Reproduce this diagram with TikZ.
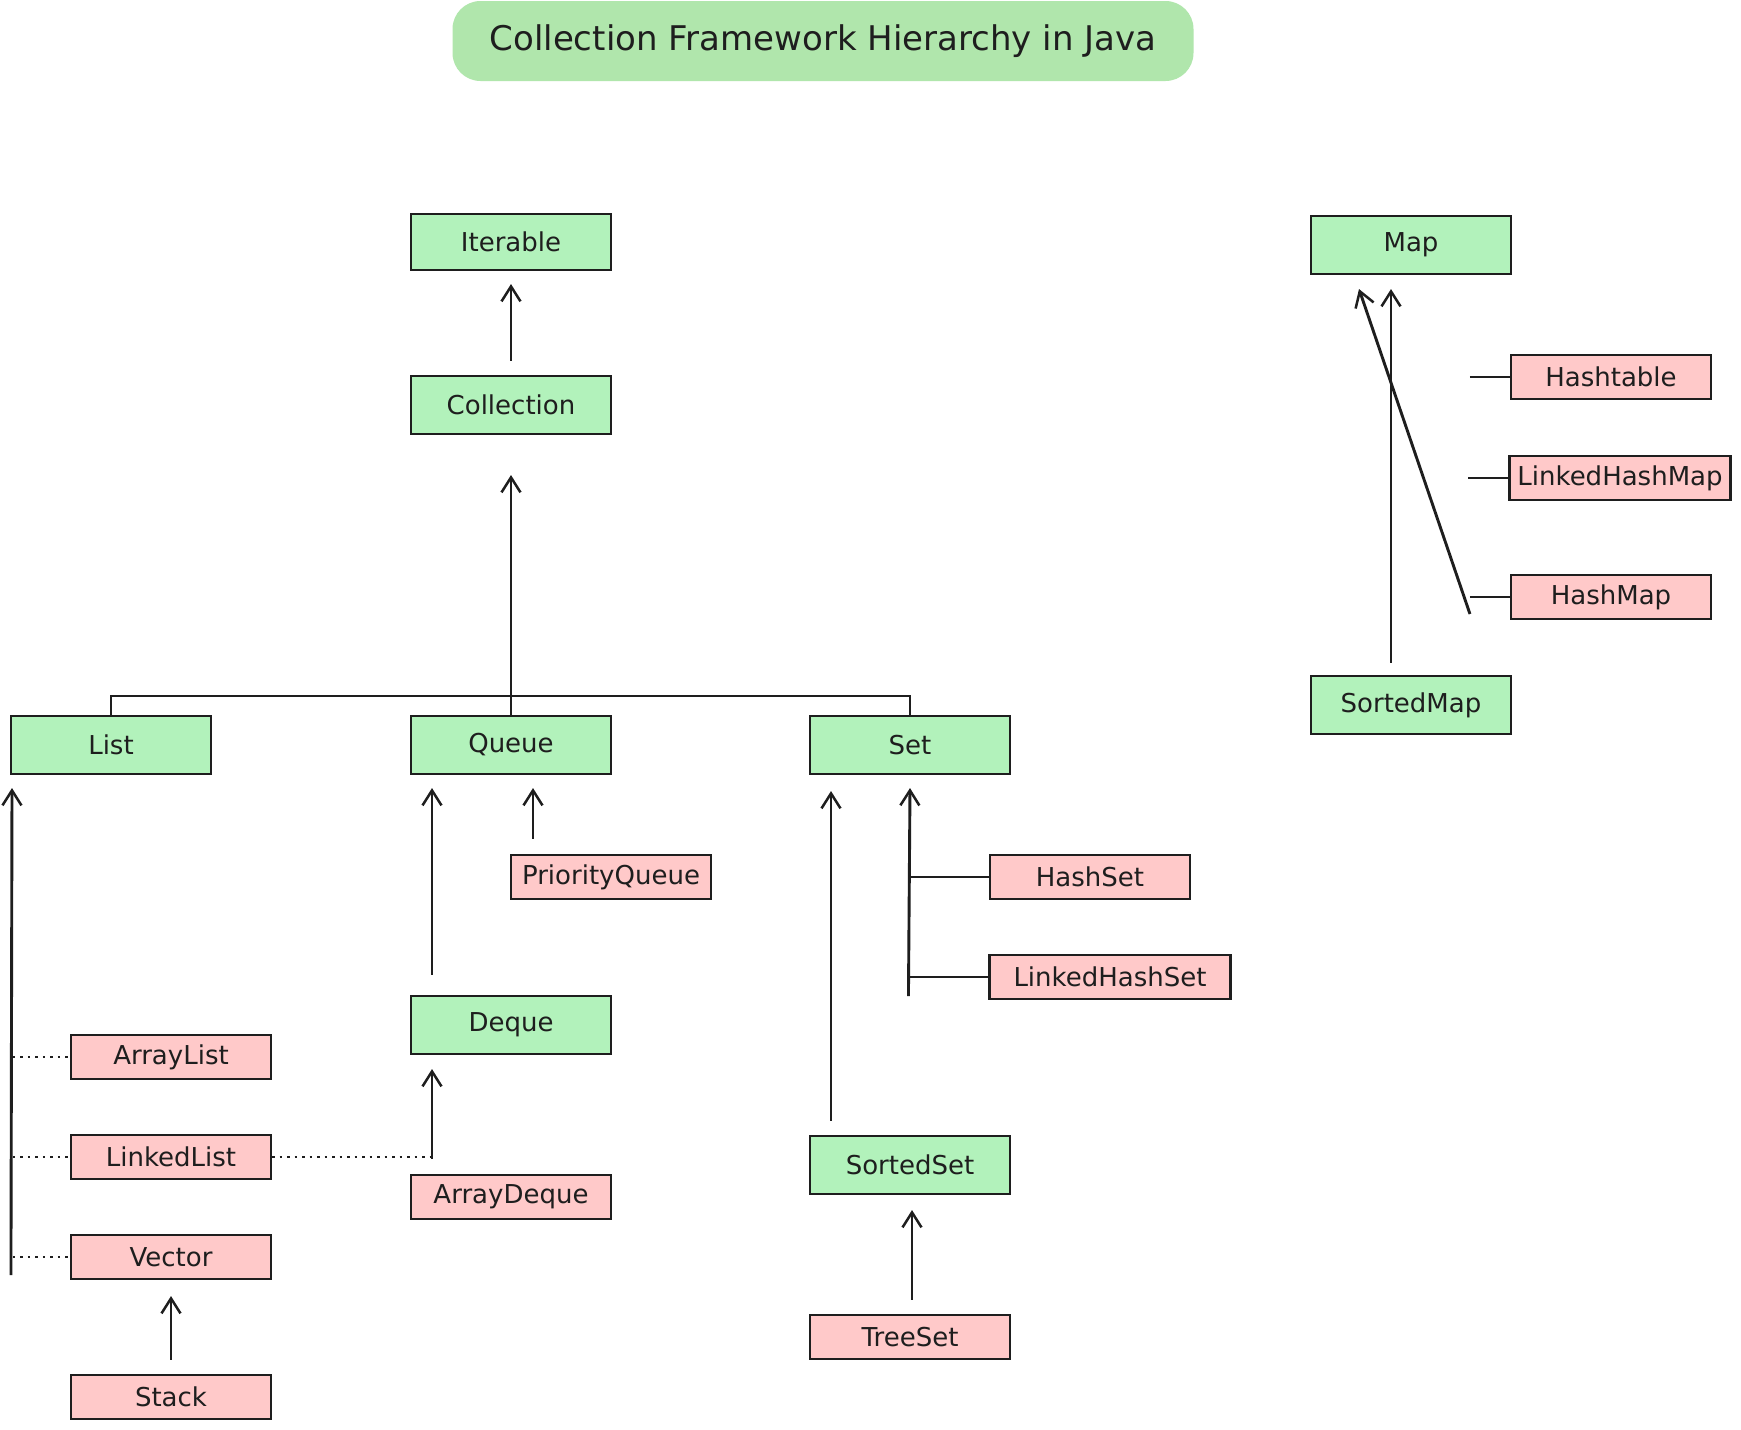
\documentclass[tikz,border=0pt]{standalone}
\usepackage{fontspec}
\setmainfont{DejaVu Sans}
\usetikzlibrary{arrows.meta}
\definecolor{ink}{HTML}{1E1E1E}
\definecolor{gfill}{HTML}{B2F2BB}
\definecolor{pfill}{HTML}{FFC9C9}
\definecolor{tfill}{HTML}{B0E6AC}
\tikzset{
  base/.style={draw=ink, line width=2.1pt, inner sep=0pt, text=ink, font=\fontsize{26}{30}\selectfont},
  gbox/.style={base, fill=gfill, minimum width=200pt, minimum height=58pt},
  pbox/.style={base, fill=pfill, minimum width=200pt, minimum height=44pt},
  arr/.style={draw=ink, line width=2.9pt, -{Straight Barb[length=15pt,width=19pt,line width=2.5pt]}},
  tline/.style={draw=ink, line width=2.1pt},
  dline/.style={draw=ink, line width=2.2pt, dash pattern=on 2.5pt off 5pt},
}
\begin{document}
\begin{tikzpicture}[x=1pt,y=-1pt]
\useasboundingbox (0,0) rectangle (1741,1430);
\fill[white] (0,0) rectangle (1741,1430);

% title
\node[fill=tfill, rounded corners=28pt, minimum width=741pt, minimum height=80pt, inner sep=0pt, text=ink,
      font=\fontsize{34}{40}\selectfont] (title) at (823,41) {Collection Framework Hierarchy in Java};

% green interfaces
\node[gbox, minimum height=56pt] (Iterable) at (511,242) {Iterable};
\node[gbox] (Collection) at (511,405) {Collection};
\node[gbox] (List) at (111,745) {List};
\node[gbox] (Queue) at (511,745) {Queue};
\node[gbox] (Set) at (910,745) {Set};
\node[gbox] (Deque) at (511,1025) {Deque};
\node[gbox] (SortedSet) at (910,1165) {SortedSet};
\node[gbox] (Map) at (1411,245) {Map};
\node[gbox] (SortedMap) at (1411,705) {SortedMap};

% pink classes
\node[pbox] (ArrayList) at (171,1057) {ArrayList};
\node[pbox] (LinkedList) at (171,1157) {LinkedList};
\node[pbox] (Vector) at (171,1257) {Vector};
\node[pbox] (Stack) at (171,1397) {Stack};
\node[pbox] (PriorityQueue) at (611,877) {PriorityQueue};
\node[pbox] (ArrayDeque) at (511,1197) {ArrayDeque};
\node[pbox] (HashSet) at (1090,877) {HashSet};
\node[pbox, minimum width=241pt] (LinkedHashSet) at (1110,977) {LinkedHashSet};
\node[pbox] (TreeSet) at (910,1337) {TreeSet};
\node[pbox] (Hashtable) at (1611,377) {Hashtable};
\node[pbox, minimum width=221pt] (LinkedHashMap) at (1620,478) {LinkedHashMap};
\node[pbox] (HashMap) at (1611,597) {HashMap};

% Collection -> Iterable
\draw[arr] ([yshift=14pt]Collection.north) -- ([yshift=-13pt]Iterable.south);

% tree under Collection
\coordinate (J) at ([yshift=19pt]Queue.north);
\draw[tline] (List.north) |- (J) -| (Set.north);
\draw[tline] (Queue.north) -- (J);
\draw[arr] (J) -- ([yshift=-40pt]Collection.south);

% List column
\coordinate (Lbot) at ([xshift=-59pt,yshift=-18pt]Vector.west);
\draw[arr] (Lbot) -- ([xshift=-99pt,yshift=-13pt]List.south);
\draw[dline] ([xshift=-57pt]ArrayList.west) -- (ArrayList.west);
\draw[dline] ([xshift=-57pt]LinkedList.west) -- (LinkedList.west);
\draw[dline] ([xshift=-57pt]Vector.west) -- (Vector.west);
\coordinate (LLend) at ([xshift=158pt]LinkedList.east);
\draw[dline] (LinkedList.east) -- (LLend);
\draw[arr] ([yshift=14pt]Stack.north) -- ([yshift=-16pt]Vector.south);

% Queue column
\draw[arr] ([xshift=-79pt,yshift=20pt]Deque.north) -- ([xshift=-79pt,yshift=-13pt]Queue.south);
\draw[arr] ([xshift=-79pt,yshift=15pt]ArrayDeque.north) -- ([xshift=-79pt,yshift=-14pt]Deque.south);
\draw[arr] ([xshift=-78pt,yshift=15pt]PriorityQueue.north) -- ([xshift=22pt,yshift=-13pt]Queue.south);

% Set column
\draw[arr] ([xshift=-79pt,yshift=14pt]SortedSet.north) -- ([xshift=-79pt,yshift=-16pt]Set.south);
\coordinate (SB) at ([xshift=-80pt,yshift=-19pt]LinkedHashSet.west);
\draw[arr] (SB) -- ([yshift=-13pt]Set.south);
\draw[tline] ([xshift=-80pt]HashSet.west) -- (HashSet.west);
\draw[tline] ([xshift=-80pt]LinkedHashSet.west) -- (LinkedHashSet.west);
\draw[arr] ([xshift=2pt,yshift=14pt]TreeSet.north) -- ([xshift=2pt,yshift=-15pt]SortedSet.south);

% Map column
\draw[arr] ([xshift=-20pt,yshift=12pt]SortedMap.north) -- ([xshift=-20pt,yshift=-14pt]Map.south);
\coordinate (HMfree) at ([xshift=-40pt,yshift=-17pt]HashMap.west);
\draw[arr] (HMfree) -- ([xshift=-52pt,yshift=-14pt]Map.south);
\draw[tline] ([xshift=-40pt]Hashtable.west) -- (Hashtable.west);
\draw[tline] ([xshift=-40pt]LinkedHashMap.west) -- (LinkedHashMap.west);
\draw[tline] ([xshift=-40pt]HashMap.west) -- (HashMap.west);
\end{tikzpicture}
\end{document}
